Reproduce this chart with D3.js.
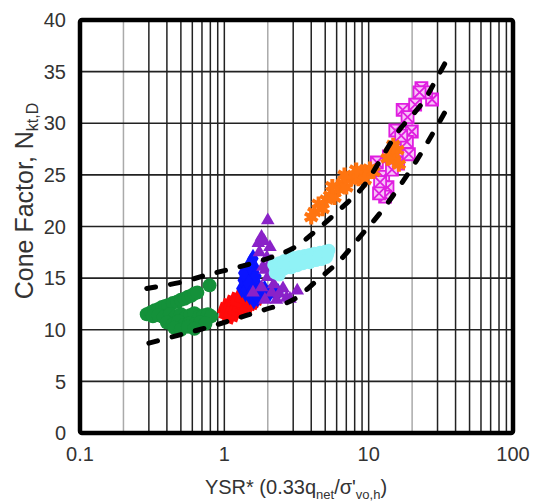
<!DOCTYPE html>
<html>
<head>
<meta charset="utf-8">
<script src="https://cdn.jsdelivr.net/npm/d3@7"></script>
<style>
  html, body { margin: 0; padding: 0; background: #fff; }
  text { font-family: "Liberation Sans", Arial, sans-serif; fill: #333; }
</style>
</head>
<body>
<div id="chart"></div>
<script>
// tick labels
let xTicks = [0.1, 1, 10, 100];
let yTicks = [0, 5, 10, 15, 20, 25, 30, 35, 40];

// bounding dashed curves (YSR*, Nkt)
let upperX = [0.29, 0.5, 0.8, 1.2, 2.0, 3.0, 4.4, 6.6, 9.1, 12, 16, 21, 24.5, 28.7, 35];
let upperY = [14.0, 14.6, 15.4, 16.0, 16.9, 17.9, 19.7, 21.9, 23.8, 26.4, 29.2, 31.1, 32.3, 34.0, 36.2];
let lowerX = [0.3, 0.52, 0.8, 1.22, 1.86, 3.0, 4.4, 6.3, 8.7, 12, 16, 21.5, 27.5, 34.5];
let lowerY = [8.7, 9.6, 10.3, 11.1, 11.9, 12.9, 14.8, 16.7, 19.0, 21.3, 23.7, 26.4, 28.9, 31.3];

// site data
let greenX = [0.29, 0.31, 0.33, 0.35, 0.37, 0.39, 0.41, 0.44, 0.47, 0.50, 0.53, 0.56, 0.59, 0.62, 0.65,
  0.32, 0.35, 0.38, 0.42, 0.46, 0.50, 0.54, 0.58, 0.62, 0.67, 0.72, 0.77, 0.81,
  0.40, 0.44, 0.48, 0.52, 0.57, 0.62, 0.68, 0.74, 0.45, 0.50, 0.56, 0.62, 0.79];
let greenY = [11.5, 11.7, 11.9, 12.0, 12.2, 12.3, 12.4, 12.6, 12.7, 12.9, 13.0, 13.2, 13.3, 13.5, 13.6,
  11.3, 11.4, 11.2, 11.5, 11.3, 11.5, 11.2, 11.4, 11.6, 11.3, 11.4, 11.5, 11.3,
  10.7, 10.5, 10.8, 10.4, 10.6, 10.5, 10.7, 10.6, 10.2, 10.0, 10.3, 10.1, 14.3];

let redX = [1.00, 1.02, 1.05, 1.08, 1.12, 1.16, 1.20, 1.25, 1.30, 1.35, 1.40, 1.46, 1.52, 1.58, 1.64,
  1.03, 1.08, 1.14, 1.20, 1.27, 1.34, 1.42, 1.50, 1.58, 1.10, 1.18, 1.26, 1.35, 1.45, 1.22, 1.32, 1.42, 1.52, 1.62,
  1.45, 1.55, 1.65, 1.70];
let redY = [12.0, 11.5, 12.4, 11.2, 12.7, 11.4, 13.0, 11.7, 13.3, 12.0, 13.6, 12.3, 13.8, 12.6, 13.1,
  11.8, 12.0, 12.2, 12.1, 12.5, 12.6, 12.9, 13.0, 13.3, 11.6, 11.9, 12.2, 12.4, 12.7, 12.8, 13.1, 13.3, 12.5, 12.8,
  13.9, 13.5, 13.7, 13.0];

let blueX = [1.32, 1.38, 1.45, 1.52, 1.58, 1.40, 1.48, 1.55, 1.62, 1.35, 1.42, 1.50, 1.60, 1.70, 1.80,
  1.45, 1.55, 1.65, 1.75, 1.90, 2.05, 2.20, 2.35, 1.60, 1.70, 1.36, 1.66, 1.50];
let blueY = [14.0, 15.0, 15.8, 16.5, 16.9, 13.6, 14.5, 15.3, 16.0, 14.8, 13.9, 13.3, 14.2, 13.5, 13.8,
  14.6, 13.7, 13.2, 14.0, 13.9, 13.5, 13.8, 13.6, 12.9, 13.1, 15.5, 15.2, 16.2];

let purpleX = [2.0, 1.81, 1.72, 2.07, 1.97, 1.85, 2.0, 1.92, 1.81, 2.13, 2.55, 3.2, 2.7, 2.3, 1.91, 1.58, 2.2, 2.4, 1.75, 1.88, 2.85, 2.1];
let purpleY = [20.6, 19.0, 18.4, 18.0, 17.0, 16.1, 15.1, 15.8, 14.1, 13.6, 14.0, 13.8, 13.1, 12.9, 12.9, 13.6, 14.4, 13.5, 17.5, 18.6, 13.0, 16.6];

let cyanX = [2.2, 2.4, 2.6, 2.8, 3.0, 3.3, 3.6, 3.9, 4.2, 4.6, 5.0, 5.3,
  2.3, 2.6, 2.9, 3.2, 3.5, 3.9, 4.3, 4.7, 5.1, 2.5, 2.8, 3.1, 3.5, 4.0, 4.5, 5.2, 2.25, 2.4];
let cyanY = [16.3, 16.5, 16.7, 16.8, 17.0, 17.1, 17.2, 17.3, 17.4, 17.5, 17.6, 17.7,
  15.7, 15.9, 16.0, 16.2, 16.4, 16.5, 16.7, 16.8, 17.0, 16.1, 16.4, 16.5, 16.7, 17.0, 17.1, 17.3, 15.5, 15.3];

let orangeX = [4.2, 4.5, 4.8, 5.1, 5.4, 5.8, 6.2, 6.6, 7.0, 7.5, 8.0, 8.5, 9.0, 9.6, 10.2, 10.8,
  4.0, 5.6, 6.8, 8.2, 9.4, 13.5, 14.2, 15.0, 15.8, 16.2, 14.8];
let orangeY = [21.4, 22.2, 21.7, 22.6, 23.0, 22.8, 23.6, 24.2, 23.8, 24.5, 24.9, 24.6, 25.3, 25.1, 25.6, 25.3,
  20.9, 23.9, 25.0, 25.5, 24.5, 26.6, 27.2, 26.4, 27.4, 26.0, 27.9];

let magentaX = [23.2, 27.5, 17.2, 18.6, 15.3, 19.9, 17.2, 18.4, 16.0, 11.4, 12.6, 13.5, 13.0, 12.0, 21.0, 25.0, 14.5, 16.8, 11.8, 13.8, 22.5, 19.0];
let magentaY = [33.4, 32.3, 31.3, 30.6, 29.3, 29.2, 27.4, 28.2, 26.1, 26.2, 24.8, 23.8, 22.9, 24.3, 31.8, 33.0, 25.5, 28.8, 23.2, 26.8, 33.0, 27.0];

let width = 536, height = 504;
let pLeft = 80, pRight = 513, pTop = 20, pBottom = 433;

let svg = d3.select('#chart')
  .append('svg')
  .attr('width', width)
  .attr('height', height);

let x = d3.scaleLog().domain([0.1, 100]).range([pLeft, pRight]);
let y = d3.scaleLinear().domain([0, 40]).range([pBottom, pTop]);

// grid
let minor = [];
[0.1, 1, 10].forEach(d => {
  for (let k = 2; k <= 9; k++) minor.push(d * k);
});
minor.push(1, 10);

svg.append('g').selectAll('line')
  .data(minor)
  .enter()
  .append('line')
  .attr('x1', d => x(d)).attr('x2', d => x(d))
  .attr('y1', pTop).attr('y2', pBottom)
  .attr('stroke', d => Math.abs(Math.log10(d) - Math.floor(Math.log10(d) + 1e-9) - Math.log10(2)) < 0.01 ? '#aaa' : '#222')
  .attr('stroke-width', 1.5);

svg.append('g').selectAll('line')
  .data(yTicks.slice(1, -1))
  .enter()
  .append('line')
  .attr('x1', pLeft).attr('x2', pRight)
  .attr('y1', d => y(d)).attr('y2', d => y(d))
  .attr('stroke', '#222')
  .attr('stroke-width', 1.6);

let zip = (xs, ys) => xs.map((v, i) => [v, ys[i]]);
let pos = d => 'translate(' + x(d[0]) + ',' + y(d[1]) + ')';

// green circles
svg.append('g').selectAll('circle')
  .data(zip(greenX, greenY))
  .enter()
  .append('circle')
  .attr('cx', d => x(d[0])).attr('cy', d => y(d[1]))
  .attr('r', 7)
  .attr('fill', '#14913a');

// red squares
svg.append('g').selectAll('path')
  .data(zip(redX, redY))
  .enter()
  .append('path')
  .attr('d', d3.symbol(d3.symbolSquare, 130))
  .attr('transform', d => pos(d) + ' rotate(20)')
  .attr('fill', '#ff0a0a');

// blue diamonds
svg.append('g').selectAll('path')
  .data(zip(blueX, blueY))
  .enter()
  .append('path')
  .attr('d', d3.symbol(d3.symbolDiamond, 110))
  .attr('transform', pos)
  .attr('fill', '#0a14ff');

// purple triangles
svg.append('g').selectAll('path')
  .data(zip(purpleX, purpleY))
  .enter()
  .append('path')
  .attr('d', d3.symbol(d3.symbolTriangle, 80))
  .attr('transform', pos)
  .attr('fill', '#8a22c8');

// cyan circles
svg.append('g').selectAll('circle')
  .data(zip(cyanX, cyanY))
  .enter()
  .append('circle')
  .attr('cx', d => x(d[0])).attr('cy', d => y(d[1]))
  .attr('r', 6.5)
  .attr('fill', '#90f2f6');

// magenta boxes with crosses
let boxPath = s => 'M' + -s + ',' + -s + 'H' + s + 'V' + s + 'H' + -s + 'Z' +
  'M' + -s + ',' + -s + 'L' + s + ',' + s + 'M' + s + ',' + -s + 'L' + -s + ',' + s;

svg.append('g').selectAll('path')
  .data(zip(magentaX, magentaY))
  .enter()
  .append('path')
  .attr('d', boxPath(6))
  .attr('transform', pos)
  .attr('fill', '#f7c4f7')
  .attr('stroke', '#e01ee0')
  .attr('stroke-width', 1.8);

// orange asterisks
svg.append('g').selectAll('path')
  .data(zip(orangeX, orangeY))
  .enter()
  .append('path')
  .attr('d', d3.symbol(d3.symbolAsterisk, 150))
  .attr('transform', pos)
  .attr('fill', 'none')
  .attr('stroke', '#ff7410')
  .attr('stroke-width', 4);

// dashed bounds
let line = d3.line()
  .x(d => x(d[0]))
  .y(d => y(d[1]))
  .curve(d3.curveCatmullRom);

[zip(upperX, upperY), zip(lowerX, lowerY)].forEach(d => {
  svg.append('path')
    .attr('d', line(d))
    .attr('fill', 'none')
    .attr('stroke', '#000')
    .attr('stroke-width', 5)
    .attr('stroke-linecap', 'round')
    .attr('stroke-dasharray', '9,15');
});

// frame
svg.append('rect')
  .attr('x', pLeft).attr('y', pTop)
  .attr('width', pRight - pLeft).attr('height', pBottom - pTop)
  .attr('rx', 2)
  .attr('fill', 'none')
  .attr('stroke', '#000')
  .attr('stroke-width', 4.5);

// tick labels
svg.append('g').selectAll('text')
  .data(yTicks)
  .enter()
  .append('text')
  .attr('x', 66)
  .attr('y', d => y(d))
  .attr('dy', '0.36em')
  .attr('text-anchor', 'end')
  .attr('font-size', 20)
  .text(d => d);

svg.append('g').selectAll('text')
  .data(xTicks)
  .enter()
  .append('text')
  .attr('x', d => x(d))
  .attr('y', 461)
  .attr('text-anchor', 'middle')
  .attr('font-size', 20)
  .text(d => d);

// axis titles
let xt = svg.append('text')
  .attr('x', 296)
  .attr('y', 494)
  .attr('text-anchor', 'middle')
  .attr('font-size', 20);
xt.append('tspan').text('YSR* (0.33q');
xt.append('tspan').attr('font-size', 13).attr('dy', 5).text('net');
xt.append('tspan').attr('dy', -5).text('/σ\'');
xt.append('tspan').attr('font-size', 13).attr('dy', 5).text('vo,h');
xt.append('tspan').attr('dy', -5).text(')');

let yt = svg.append('text')
  .attr('transform', 'translate(33,201) rotate(-90)')
  .attr('text-anchor', 'middle')
  .attr('font-size', 25);
yt.append('tspan').text('Cone Factor, N');
yt.append('tspan').attr('font-size', 16).attr('dy', 5).text('kt,D');
</script>
</body>
</html>
